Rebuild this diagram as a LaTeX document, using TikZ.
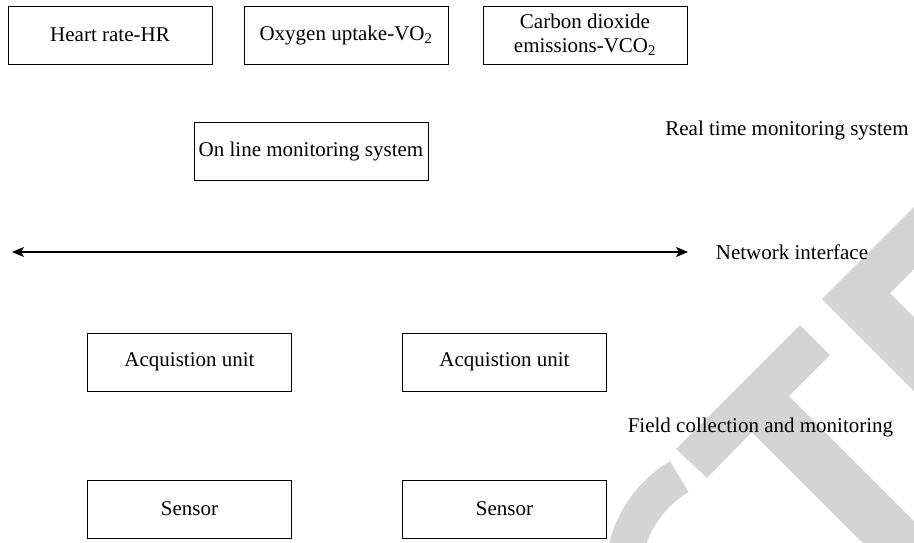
\documentclass[tikz,border=0pt]{standalone}
\usepackage{fontspec}
\setmainfont{Liberation Serif}
\usetikzlibrary{arrows.meta}
\definecolor{wmgray}{RGB}{212,212,212}
\newcommand{\diafont}{\fontsize{21}{24}\selectfont}
\begin{document}
\begin{tikzpicture}[x=1pt,y=-1pt,
  box/.style={draw, line width=1pt, minimum width=204pt, minimum height=58pt, inner sep=0pt, align=center, font=\diafont},
  lbl/.style={inner sep=0pt, font=\diafont},
  wm/.style={fill=wmgray, draw=none}]
\useasboundingbox[fill=white] (0,0) rectangle (914,542);
% watermark
\begin{scope}
\clip (0,0) rectangle (914,542);
\fill[wmgray] (950,171) -- (822,299) -- (950,427) -- (950,353) -- (890,293) -- (950,233) -- cycle;
\fill[wmgray] (676,449) -- (800,325) -- (830,355) -- (789,396) -- (1000,607) -- (1000,680) -- (752,432) -- (707,478) -- cycle;
\fill[wmgray] plot[domain=239:170, samples=40] ({739+134*cos(\x)}, {576+134*sin(\x)})
   -- plot[domain=170:239, samples=40] ({739+98*cos(\x)}, {576+98*sin(\x)}) -- cycle;
\end{scope}
% top row
\node[box] (hr) at (110,35) {Heart rate-HR};
\node[box] (vo) at (346,35) {Oxygen uptake-VO\textsubscript{2}};
\node[box] (vco) at (585,35) {Carbon dioxide\\emissions-VCO\textsubscript{2}};
\node[box, minimum width=234pt] (oms) at (311,151) {On line monitoring system};
\node[lbl] (rt) at (787,130) {Real time monitoring system};
% network
\coordinate (nl) at (12,252);
\coordinate (nr) at (688,252);
\draw[line width=1.1pt, {Stealth[length=12pt,width=10pt,inset=3pt]}-{Stealth[length=12pt,width=10pt,inset=3pt]}] (nl) -- (nr);
\node[lbl] (ni) at (792,252) {Network interface};
% field
\node[box] (acq1) at (189.5,362) {Acquistion unit};
\node[box] (acq2) at (504.5,362) {Acquistion unit};
\node[lbl] (fc) at (760.5,427) {Field collection and monitoring};
\node[box] (s1) at (189.5,509) {Sensor};
\node[box] (s2) at (504.5,509) {Sensor};
\end{tikzpicture}
\end{document}
